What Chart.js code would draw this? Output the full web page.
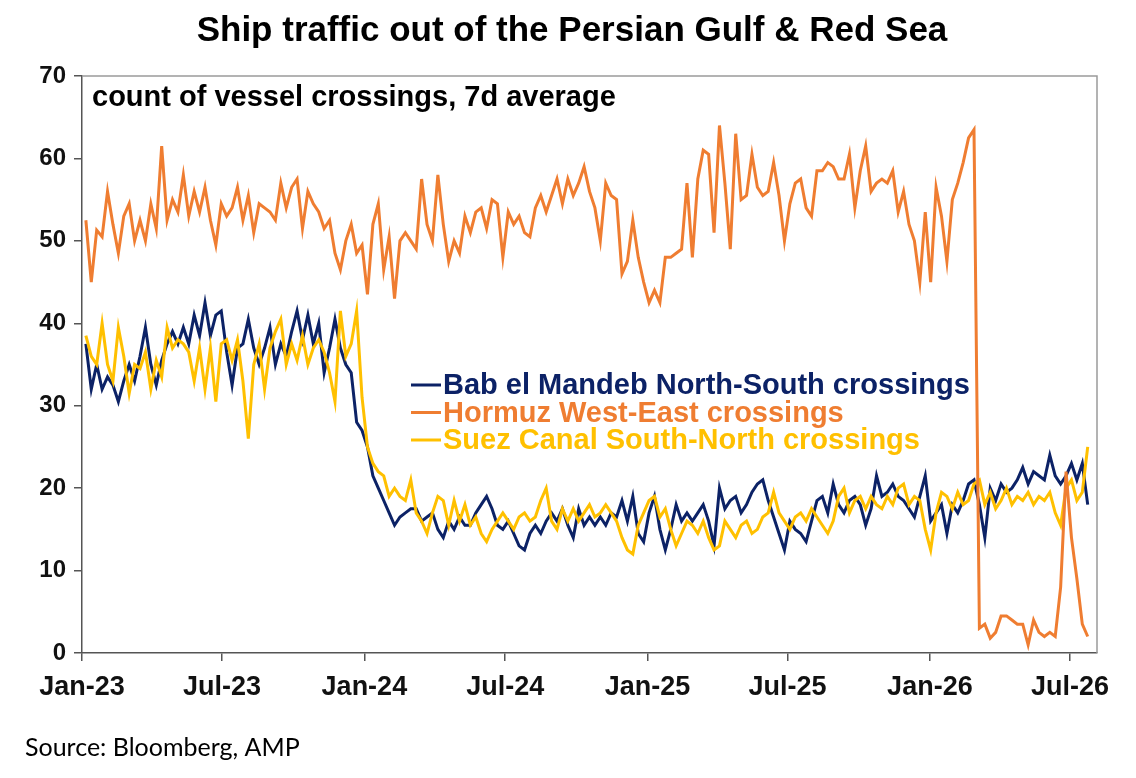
<!DOCTYPE html>
<html>
<head>
<meta charset="utf-8">
<title>Ship traffic out of the Persian Gulf & Red Sea</title>
<script src="https://cdn.jsdelivr.net/npm/chart.js@4.4.1/dist/chart.umd.min.js"></script>
<style>
    html, body { margin: 0; padding: 0; background: #fff; }
    #wrap { width: 1136px; height: 778px; }
</style>
</head>
<body>
<div id="wrap"><canvas id="chart" width="1136" height="778"></canvas></div>
<script>
// Weekly readings of the 7d average, first reading on 6 Jan 2023
const startDate = '2023-01-06';
const stepDays = 7;

const babElMandeb = [
    37.5, 32, 35, 32, 33.5, 32.5, 30.5, 33, 35, 33, 36, 39.5, 35, 32.5, 35.5, 37.5, 39, 37.5, 39.5, 37.5,
    41, 38.5, 42.5, 38.5, 41, 41.5, 36.5, 32.5, 37, 37.5, 40.5, 37, 35, 37, 39.5, 35, 37.5, 36, 39, 41.5,
    38, 41, 37.5, 40, 34, 37, 40.5, 37, 35, 34, 28, 27, 25, 21.5, 20, 18.5, 17, 15.5, 16.5, 17,
    17.5, 17.5, 16, 16.5, 17, 15, 14, 16, 15, 16.5, 15.5, 15.5, 17, 18, 19, 17.5, 15.5, 15, 16, 14.5,
    13, 12.5, 14.5, 15.5, 14.5, 16, 17, 16, 17.5, 15.5, 14, 17.5, 15.5, 16.5, 15.5, 16.5, 15.5, 17, 16.5, 18.5,
    16, 19, 14.5, 13.5, 17, 19, 15, 12.5, 15, 18, 16, 17, 16, 17, 18, 16, 13, 20, 17.5, 18.5,
    19, 17, 18, 19.5, 20.5, 21, 18.5, 16.5, 14.5, 12.5, 16, 15, 14.5, 13.5, 16, 18.5, 19, 17, 20.5, 18,
    17, 18.5, 19, 18, 15.5, 17.5, 21.5, 19, 19.5, 20.5, 19, 18.5, 17.5, 16.5, 19, 21.5, 16, 17, 18, 14.5,
    18, 17, 18.5, 20.5, 21, 18, 14, 20, 18.5, 20.5, 19.5, 20, 21, 22.5, 20.5, 22, 21.5, 21, 24, 21.5,
    20.5, 21.5, 23, 21, 23, 18
];

const hormuz = [
    52.5, 45, 51.3, 50.5, 56, 52, 48.5, 53, 54.5, 50, 52.5, 50, 54.5, 51.5, 61.5, 52.5, 55, 53.5, 58, 53,
    56, 53.5, 56.5, 52.5, 49.5, 54.5, 53, 54, 56.5, 52.5, 55.5, 51, 54.5, 54, 53.5, 52.5, 57, 54, 56.5, 57.5,
    51.5, 56, 54.5, 53.5, 51.5, 52.5, 48.5, 46.5, 50, 52, 48.5, 49.5, 43.5, 52, 54.5, 46.5, 50.5, 43, 50, 51,
    50, 49, 57.5, 52, 50, 58, 52, 47.5, 50, 48.5, 53, 51, 53.5, 54, 51.5, 55, 54.5, 48, 53.5, 52,
    53, 51, 50.5, 54, 55.5, 53.5, 55.5, 57.5, 54.5, 57.5, 55.5, 57, 59, 56, 54, 50, 57, 55.5, 55, 46,
    47.5, 52.5, 48, 45, 42.5, 44, 42.5, 48, 48, 48.5, 49, 57, 48, 57.5, 61, 60.5, 51, 64, 57, 49,
    63, 55, 55.5, 60.5, 56.5, 55.5, 56, 59.5, 55.5, 50, 54.5, 57, 57.5, 54, 53, 58.5, 58.5, 59.5, 59, 57.5,
    57.5, 60.5, 54, 58.5, 61.5, 56, 57, 57.5, 57, 58.5, 53.5, 56, 52, 50, 45, 53.5, 45, 56.5, 53, 47.5,
    55, 57, 59.5, 62.5, 63.5, 3, 3.5, 1.8, 2.5, 4.5, 4.5, 4, 3.5, 3.5, 1, 4, 2.5, 2, 2.5, 2,
    8, 22, 14, 9, 3.5, 2
];

const suez = [
    38.5, 36, 35, 40, 35, 33, 39.5, 36, 31.5, 35, 34.5, 36.5, 32, 35.5, 33.5, 39.5, 37, 38, 37.5, 36.5,
    33, 37, 32, 37, 30.5, 37.5, 38, 35.5, 38, 33, 26, 35, 37.5, 32, 37, 39, 40.5, 35, 37.5, 35.5,
    38.5, 35, 37, 38, 36.5, 34, 30.5, 41.5, 36, 37.5, 41.5, 31, 25, 23, 22, 21.5, 19, 20, 19, 18.5,
    21, 17, 16, 14.5, 17, 19, 18.5, 15.5, 18.5, 16, 18, 15.5, 16.5, 14.5, 13.5, 15, 16, 17, 16, 15,
    16.5, 17, 16, 16.5, 18.5, 20, 16, 15, 17.5, 16, 17.5, 16, 17, 18, 16.5, 17, 18, 17, 16, 14,
    12.5, 12, 15.5, 17, 18.5, 19, 16.5, 17.5, 15, 13, 14.5, 16, 15.5, 14.5, 16, 14, 12.5, 13, 16, 15,
    14, 15.5, 16, 14.5, 15, 16.5, 17, 19.5, 17, 16, 15, 16.5, 17, 16, 17.5, 16.5, 15.5, 14.5, 16, 19,
    20, 17, 18.5, 19, 17.5, 19, 18, 17.5, 19, 18, 20, 20.5, 18, 19, 18.5, 15, 12.5, 17, 19.5, 19,
    17.5, 19.5, 18, 18.5, 20.5, 21, 18, 19.5, 17.5, 18.5, 20, 18, 19, 18.5, 19.5, 18, 19, 18.5, 19.5, 17,
    15.5, 20, 21, 18.5, 19.5, 25
];

const seriesNames = [
    'Bab el Mandeb North-South crossings',
    'Hormuz West-East crossings',
    'Suez Canal South-North crossings'
];
const seriesColors = ['#0c2266', '#ef7d31', '#ffc000'];

const tickLabels = ['Jan-23', 'Jul-23', 'Jan-24', 'Jul-24', 'Jan-25', 'Jul-25', 'Jan-26', 'Jul-26'];
const tickDates = ['2023-01-01', '2023-07-01', '2024-01-01', '2024-07-01', '2025-01-01', '2025-07-01', '2026-01-01', '2026-07-01'];
const axisStart = '2023-01-01';
const axisEnd = '2026-08-05';
const yTicks = [0, 10, 20, 30, 40, 50, 60, 70];

const DAY = 86400000;
function dayNo(iso) {
    return Math.round((Date.parse(iso + 'T00:00:00Z') - Date.parse(axisStart + 'T00:00:00Z')) / DAY);
}

function toPoints(values) {
    const first = dayNo(startDate);
    return values.map((v, i) => ({ x: first + i * stepDays, y: v }));
}

const tickDays = tickDates.map(dayNo);

const FONT = '"Liberation Sans", Arial, sans-serif';

// Title, note, frame, in-plot legend and source line
const decorations = {
    id: 'decorations',
    afterDraw(chart) {
        const ctx = chart.ctx;
        const area = chart.chartArea;
        ctx.save();

        ctx.strokeStyle = '#9a9a9a';
        ctx.lineWidth = 1.5;
        ctx.beginPath();
        ctx.moveTo(area.left, area.top);
        ctx.lineTo(area.right, area.top);
        ctx.lineTo(area.right, area.bottom);
        ctx.stroke();

        ctx.fillStyle = '#000';
        ctx.textBaseline = 'middle';
        ctx.textAlign = 'center';
        ctx.font = 'bold 35px ' + FONT;
        ctx.fillText('Ship traffic out of the Persian Gulf & Red Sea', 572, 31);

        ctx.textAlign = 'left';
        ctx.textBaseline = 'alphabetic';
        ctx.font = 'bold 29px ' + FONT;
        ctx.fillText('count of vessel crossings, 7d average', 92, 106);

        ctx.textBaseline = 'middle';
        seriesNames.forEach((name, i) => {
            const y = 385 + i * 27.5;
            ctx.strokeStyle = seriesColors[i];
            ctx.lineWidth = 3;
            ctx.beginPath();
            ctx.moveTo(411, y);
            ctx.lineTo(441, y);
            ctx.stroke();
            ctx.fillStyle = seriesColors[i];
            ctx.font = 'bold 29px ' + FONT;
            ctx.fillText(name, 443, y + 1);
        });

        ctx.fillStyle = '#000';
        ctx.font = '25px Lato, "Open Sans", sans-serif';
        ctx.fillText('Source: Bloomberg, AMP', 25, 748);
        ctx.restore();
    }
};

function makeDataset(i, values, order) {
    return {
        label: seriesNames[i],
        data: toPoints(values),
        borderColor: seriesColors[i],
        backgroundColor: seriesColors[i],
        borderWidth: 3,
        pointRadius: 0,
        tension: 0,
        order: order
    };
}

new Chart(document.getElementById('chart'), {
    type: 'line',
    data: {
        datasets: [
            makeDataset(0, babElMandeb, 3),
            makeDataset(1, hormuz, 1),
            makeDataset(2, suez, 2)
        ]
    },
    options: {
        responsive: false,
        animation: false,
        layout: { padding: { left: 0, right: 39, top: 76, bottom: 0 } },
        plugins: {
            legend: { display: false },
            title: { display: false },
            tooltip: { enabled: false }
        },
        scales: {
            x: {
                type: 'linear',
                min: 0,
                max: dayNo(axisEnd),
                afterFit(scale) { scale.height = 125; },
                afterBuildTicks(scale) { scale.ticks = tickDays.map(v => ({ value: v })); },
                grid: { drawOnChartArea: false, drawTicks: true, tickLength: 8, color: '#555', lineWidth: 1.5 },
                border: { display: true, color: '#555', width: 1.5 },
                ticks: {
                    autoSkip: false,
                    maxRotation: 0,
                    padding: 10,
                    color: '#111',
                    font: { family: FONT, size: 27, weight: 'bold' },
                    callback(value) {
                        const idx = tickDays.indexOf(value);
                        return idx >= 0 ? tickLabels[idx] : '';
                    }
                }
            },
            y: {
                min: 0,
                max: 70,
                afterFit(scale) { scale.width = 82; },
                afterBuildTicks(scale) { scale.ticks = yTicks.map(v => ({ value: v })); },
                grid: { drawOnChartArea: false, drawTicks: true, tickLength: 8, color: '#555', lineWidth: 1.5 },
                border: { display: true, color: '#555', width: 1.5 },
                ticks: {
                    padding: 8,
                    color: '#111',
                    font: { family: FONT, size: 24, weight: 'bold' }
                }
            }
        }
    },
    plugins: [decorations]
});
</script>
</body>
</html>
